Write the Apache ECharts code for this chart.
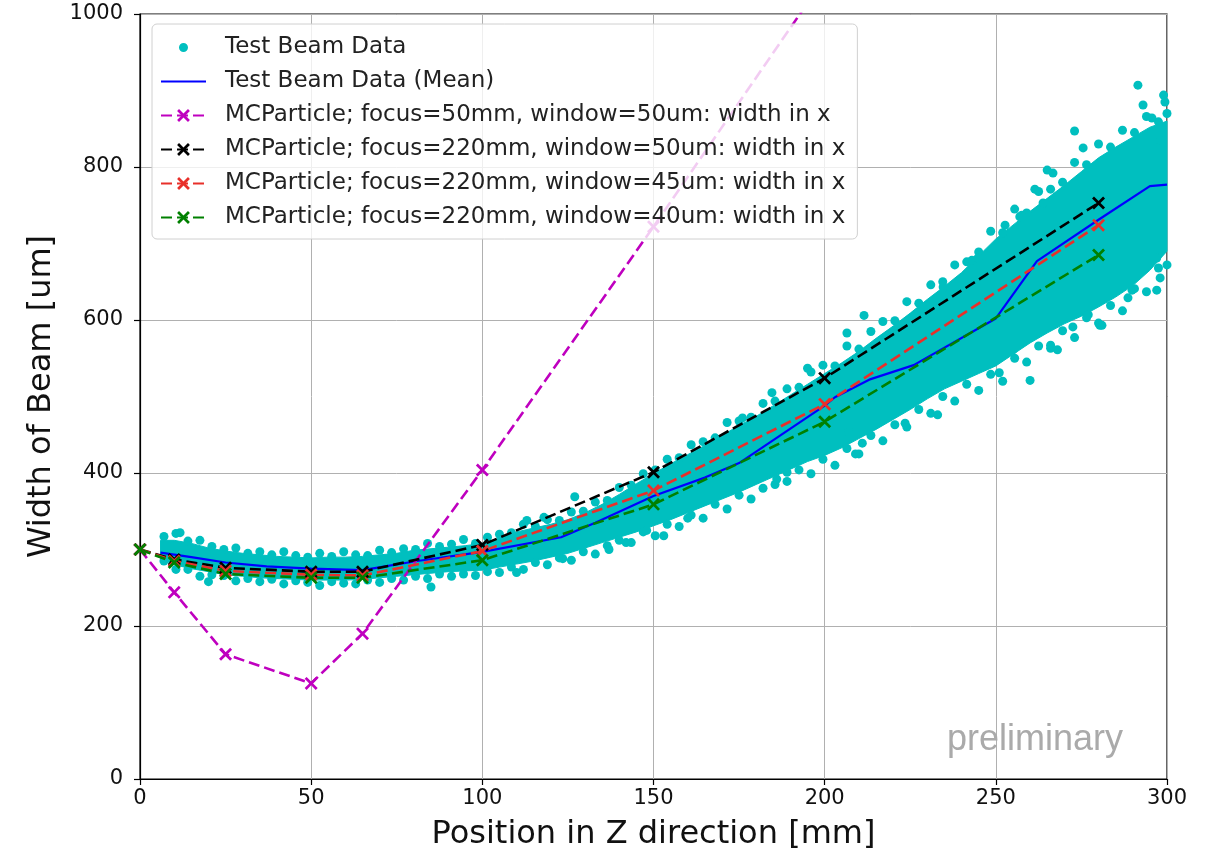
<!DOCTYPE html>
<html>
<head>
<meta charset="utf-8">
<script src="https://cdn.jsdelivr.net/npm/echarts@6/dist/echarts.min.js"></script>
<style>
html,body{margin:0;padding:0;background:#fff;}
#chart{width:1210px;height:857px;}
</style>
</head>
<body>
<div id="chart"></div>
<script>
// ---------- Data ----------
// Dense core of the test-beam cloud: z, lower edge, upper edge
const bandZ  = [6,10,15,20,25,30,35,40,45,50,55,60,65,70,75,80,85,90,95,100,105,110,115,120,125,130,135,140,145,150,155,160,165,170,175,180,185,190,195,200,205,210,215,220,225,230,235,240,245,250,255,260,265,270,275,280,285,290,295,300];
const bandLo = [288,280,275,271,267,265,263,262,261,260,260,260,261,263,265,267,269,271,272,273,277,281,285,290,295,302,309,316,323,331,339,348,357,366,375,385,395,405,415,423,433,445,457,470,483,497,510,520,530,540,555,570,583,595,605,617,630,645,665,690];
const bandHi = [312,312,308,302,298,295,293,291,290,289,290,290,291,293,295,299,301,303,305,308,315,323,328,333,339,348,359,372,386,399,412,424,436,449,462,474,488,502,516,530,544,559,576,592,609,627,644,662,684,706,724,742,759,776,794,812,826,839,852,860];

// Individual test-beam points along the upper edge of the cloud
const cloudTop = [[7,317],[10.5,321],[14,311],[17.5,312],[21,304],[24.5,300],[28,302],[31.5,295],[35,297],[38.5,293],[42,297],[45.5,292],[49,290],[52.5,295],[56,291],[59.5,297],[63,293],[66.5,292],[70,299],[73.5,296],[77,301],[80.5,300],[84,308],[87.5,304],[91,307],[94.5,313],[98,308],[101.5,316],[105,320],[108.5,322],[112,333],[115.5,330],[119,339],[122.5,338],[126,349],[129.5,350],[133,362],[136.5,364],[140,381],[143.5,384],[147,399],[150.5,404],[154,418],[157.5,420],[161,437],[164.5,441],[168,446],[171.5,466],[175,468],[178.5,473],[182,491],[185.5,494],[189,510],[192.5,512],[196,532],[199.5,541],[203,540],[206.5,566],[210,562],[213.5,585],[217,598],[220.5,599],[224,624],[227.5,622],[231,646],[234.5,650],[238,672],[241.5,676],[245,689],[248.5,716],[252,714],[255.5,745],[259,740],[262.5,768],[266,771],[269.5,780],[273,806],[276.5,803],[280,830],[283.5,826],[287,848],[290.5,845],[294,866],[297.5,859],[300,870]];
// Individual test-beam points along the lower edge of the cloud
const cloudBottom = [[7,285],[10.5,274],[14,274],[17.5,265],[21,267],[24.5,266],[28,259],[31.5,262],[35,258],[38.5,261],[42,255],[45.5,259],[49,257],[52.5,253],[56,258],[59.5,256],[63,255],[66.5,260],[70,257],[73.5,262],[77,260],[80.5,265],[84,262],[87.5,268],[91,265],[94.5,268],[98,266],[101.5,271],[105,270],[108.5,277],[112,274],[115.5,283],[119,280],[122.5,289],[126,286],[129.5,297],[133,294],[136.5,305],[140,312],[143.5,309],[147,323],[150.5,318],[154,333],[157.5,330],[161,345],[164.5,341],[168,359],[171.5,353],[175,371],[178.5,366],[182,380],[185.5,385],[189,389],[192.5,404],[196,399],[199.5,418],[203,410],[206.5,432],[210,425],[213.5,449],[217,442],[220.5,463],[224,460],[227.5,483],[231,478],[234.5,500],[238,494],[241.5,516],[245,508],[248.5,529],[252,520],[255.5,550],[259,545],[262.5,566],[266,563],[269.5,586],[273,577],[276.5,603],[280,596],[283.5,619],[287,612],[290.5,641],[294,637],[297.5,668],[300,672]];
// Scattered outlying test-beam points
const cloudOutliers = [[11.7,322],[20,258],[85,251],[110,270],[127,369],[123.5,288],[118,342],[113,338],[137,300],[142,309],[148,325],[153,318],[160,341],[176,472],[184.6,505],[195,537],[186,392],[189,401],[206.5,583],[211.5,606],[207,454],[209,425],[211,439],[223.5,465],[233,476],[234.6,643],[243,678],[244.8,681],[251,531],[252.7,724],[255,561],[257,735],[257.6,737],[260,521],[261.4,771],[263.8,753],[265,796],[266,567],[266.7,792],[268,561],[272.5,591],[273,847],[275.5,825],[277,607],[280.4,593],[281,593],[288.6,629],[289.8,639],[291.5,907],[293,881],[295.6,864],[297,639],[297,681],[298,655],[298,835],[299,894],[299.4,885]];

// Mean of the test-beam data
const meanZ = [6,15,25,37,50,65,81,100,123,133,150,165,175,200,203,213,226,250,262,280,295,300];
const meanV = [296,290,283,278,275,273,285,297,316,335,370,394,413,488,499,522,541,602,677,731,775,777];

// MCParticle simulations
const mcZ = [0,10,25,50,65,100,150,200,280];
const mcF50W50  = [300,244,163,125,190,404,722,1047];
const mcF220W50 = [300,287,276,271,271,306,401,524,753];
const mcF220W45 = [300,285,272,267,266,298,377,490,724];
const mcF220W40 = [300,283,268,263,263,286,359,467,685];

const xTicks = {min:0, max:300, interval:50};
const yTicks = {min:0, max:1000, interval:200};

// ---------- Chart ----------
const CYAN = '#00bfbf';
const FONT = 'DejaVu Sans';
const XSYM = 'path://M0,1.5L1.5,0L5,3.5L8.5,0L10,1.5L6.5,5L10,8.5L8.5,10L5,6.5L1.5,10L0,8.5L3.5,5Z';
const DOT_ICON = 'path://M0,0M16,16M8,3.5A4.5,4.5,0,1,1,7.99,3.5Z';
const LINE_ICON = 'path://M0,0M45,16M0,6.9L45,6.9L45,9.1L0,9.1Z';

const pair = (zs, vs) => vs.map((v, i) => [zs[i], v]);
const bandData = bandZ.map((z, i) => [z, bandLo[i], bandHi[i]]);
const cloudData = cloudTop.concat(cloudBottom, cloudOutliers);

function mcSeries(name, color, vals) {
  return {
    name, type: 'line', data: pair(mcZ, vals),
    symbol: XSYM, symbolSize: 13, showAllSymbol: true,
    lineStyle: {color, width: 2.6, type: [11, 5]},
    itemStyle: {color},
    z: 3, clip: true, animation: false
  };
}

const chart = echarts.init(document.getElementById('chart'), null, {renderer: 'canvas'});
chart.setOption({
  animation: false,
  backgroundColor: '#ffffff',
  grid: {left: 140, right: 43, top: 14, bottom: 78, show: true, borderColor: '#000', borderWidth: 1.2, containLabel: false},
  xAxis: {
    type: 'value', min: xTicks.min, max: xTicks.max, interval: xTicks.interval,
    name: 'Position in Z direction [mm]', nameLocation: 'middle', nameGap: 40,
    nameTextStyle: {fontFamily: FONT, fontSize: 32, color: '#111'},
    axisLine: {lineStyle: {color: '#000', width: 1.2}},
    axisTick: {show: true, length: 6, lineStyle: {color: '#000', width: 1.2}},
    axisLabel: {fontFamily: FONT, fontSize: 21, color: '#111', margin: 9, formatter: v => String(v)},
    splitLine: {show: true, lineStyle: {color: '#b0b0b0', width: 1}}
  },
  yAxis: {
    type: 'value', min: yTicks.min, max: yTicks.max, interval: yTicks.interval,
    name: 'Width of Beam [um]', nameLocation: 'middle', nameGap: 82,
    nameTextStyle: {fontFamily: FONT, fontSize: 32, color: '#111'},
    axisLine: {show: true, lineStyle: {color: '#000', width: 1.2}},
    axisTick: {show: true, length: 6, lineStyle: {color: '#000', width: 1.2}},
    axisLabel: {fontFamily: FONT, fontSize: 21, color: '#111', margin: 17, formatter: v => String(v)},
    splitLine: {show: true, lineStyle: {color: '#b0b0b0', width: 1}}
  },
  legend: {
    orient: 'vertical', left: 152, top: 24, z: 10,
    padding: [12, 12, 10, 8], itemGap: 11, itemWidth: 45, itemHeight: 16,
    backgroundColor: 'rgba(255,255,255,0.8)', borderColor: '#d0d0d0', borderWidth: 1, borderRadius: 5,
    textStyle: {fontFamily: FONT, fontSize: 23, color: '#222', padding: [2, 0, 2, 14]},
    data: [
      {name: 'Test Beam Data', icon: DOT_ICON},
      {name: 'Test Beam Data (Mean)', icon: LINE_ICON},
      'MCParticle; focus=50mm, window=50um: width in x',
      'MCParticle; focus=220mm, window=50um: width in x',
      'MCParticle; focus=220mm, window=45um: width in x',
      'MCParticle; focus=220mm, window=40um: width in x'
    ]
  },
  graphic: [{
    type: 'text', left: 947, top: 722, z: 10,
    style: {text: 'preliminary', fontFamily: 'Liberation Sans', fontSize: 36, fill: '#aaaaaa'}
  }],
  series: [
    {
      name: 'cloud core', type: 'custom', data: bandData, z: 1, silent: true,
      encode: {x: 0, y: [1, 2]},
      renderItem: function (params, api) {
        if (params.dataIndex !== 0) return null;
        const pts = [];
        for (let i = 0; i < bandData.length; i++) pts.push(api.coord([bandData[i][0], bandData[i][2]]));
        for (let i = bandData.length - 1; i >= 0; i--) pts.push(api.coord([bandData[i][0], bandData[i][1]]));
        return {type: 'polygon', shape: {points: pts}, style: {fill: CYAN, stroke: CYAN, lineWidth: 1}};
      }
    },
    {
      name: 'Test Beam Data', type: 'scatter', data: cloudData, symbol: 'circle', symbolSize: 9,
      itemStyle: {color: CYAN, opacity: 1}, z: 2, large: false
    },
    {
      name: 'Test Beam Data (Mean)', type: 'line', data: pair(meanZ, meanV),
      symbol: 'none', showSymbol: false,
      lineStyle: {color: '#0000ff', width: 2.2}, itemStyle: {color: '#0000ff'}, z: 3
    },
    mcSeries('MCParticle; focus=50mm, window=50um: width in x', '#bf00bf', mcF50W50),
    mcSeries('MCParticle; focus=220mm, window=50um: width in x', '#000000', mcF220W50),
    mcSeries('MCParticle; focus=220mm, window=45um: width in x', '#e8302a', mcF220W45),
    mcSeries('MCParticle; focus=220mm, window=40um: width in x', '#008000', mcF220W40)
  ]
});
</script>
</body>
</html>
